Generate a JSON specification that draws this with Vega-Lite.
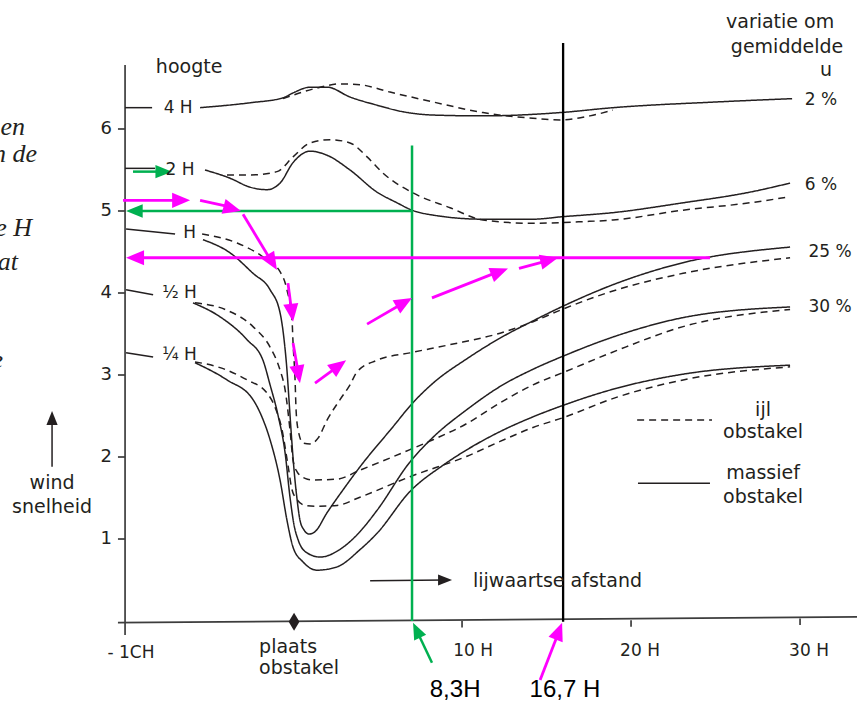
{
"$schema": "https://vega.github.io/schema/vega-lite/v6.json",
"width": 857, "height": 704,
"autosize": {"type": "none"},
"padding": 0,
"background": "white",
"config": {"view": {"stroke": null}},
"datasets": {
"curves": [
{"s":"4Hs","d":"solid","x":-5.50,"y":6.26},{"s":"4Hs","d":"solid","x":-2.54,"y":6.32},{"s":"4Hs","d":"solid","x":-0.59,"y":6.38},{"s":"4Hs","d":"solid","x":0,"y":6.44},{"s":"4Hs","d":"solid","x":1.01,"y":6.51},{"s":"4Hs","d":"solid","x":2.01,"y":6.51},{"s":"4Hs","d":"solid","x":3.37,"y":6.39},{"s":"4Hs","d":"solid","x":4.97,"y":6.29},{"s":"4Hs","d":"solid","x":6.51,"y":6.21},{"s":"4Hs","d":"solid","x":8.28,"y":6.17},{"s":"4Hs","d":"solid","x":11.24,"y":6.16},{"s":"4Hs","d":"solid","x":15.80,"y":6.20},{"s":"4Hs","d":"solid","x":18.93,"y":6.26},{"s":"4Hs","d":"solid","x":25.09,"y":6.33},{"s":"4Hs","d":"solid","x":29.53,"y":6.37},
{"s":"4Hd","d":"dashed","x":-0.59,"y":6.37},{"s":"4Hd","d":"dashed","x":-0.18,"y":6.40},{"s":"4Hd","d":"dashed","x":1.42,"y":6.50},{"s":"4Hd","d":"dashed","x":2.78,"y":6.55},{"s":"4Hd","d":"dashed","x":3.96,"y":6.54},{"s":"4Hd","d":"dashed","x":5.74,"y":6.45},{"s":"4Hd","d":"dashed","x":8.28,"y":6.33},{"s":"4Hd","d":"dashed","x":11.24,"y":6.20},{"s":"4Hd","d":"dashed","x":14.20,"y":6.13},{"s":"4Hd","d":"dashed","x":15.80,"y":6.11},{"s":"4Hd","d":"dashed","x":17.57,"y":6.16},{"s":"4Hd","d":"dashed","x":18.93,"y":6.23},
{"s":"2Hs","d":"solid","x":-5.21,"y":5.50},{"s":"2Hs","d":"solid","x":-3.73,"y":5.40},{"s":"2Hs","d":"solid","x":-2.54,"y":5.29},{"s":"2Hs","d":"solid","x":-1.54,"y":5.26},{"s":"2Hs","d":"solid","x":-0.77,"y":5.34},{"s":"2Hs","d":"solid","x":0,"y":5.59},{"s":"2Hs","d":"solid","x":1.01,"y":5.73},{"s":"2Hs","d":"solid","x":2.01,"y":5.68},{"s":"2Hs","d":"solid","x":3.37,"y":5.50},{"s":"2Hs","d":"solid","x":4.97,"y":5.23},{"s":"2Hs","d":"solid","x":6.15,"y":5.10},{"s":"2Hs","d":"solid","x":7.04,"y":5.01},{"s":"2Hs","d":"solid","x":8.28,"y":4.95},{"s":"2Hs","d":"solid","x":11.24,"y":4.90},{"s":"2Hs","d":"solid","x":14.20,"y":4.90},{"s":"2Hs","d":"solid","x":15.92,"y":4.93},{"s":"2Hs","d":"solid","x":18.93,"y":4.98},{"s":"2Hs","d":"solid","x":23.08,"y":5.10},{"s":"2Hs","d":"solid","x":27.04,"y":5.23},{"s":"2Hs","d":"solid","x":29.41,"y":5.34},
{"s":"2Hd","d":"dashed","x":-3.91,"y":5.44},{"s":"2Hd","d":"dashed","x":-2.54,"y":5.44},{"s":"2Hd","d":"dashed","x":-0.95,"y":5.48},{"s":"2Hd","d":"dashed","x":0,"y":5.66},{"s":"2Hd","d":"dashed","x":1.01,"y":5.83},{"s":"2Hd","d":"dashed","x":2.19,"y":5.87},{"s":"2Hd","d":"dashed","x":3.37,"y":5.83},{"s":"2Hd","d":"dashed","x":4.38,"y":5.66},{"s":"2Hd","d":"dashed","x":5.33,"y":5.46},{"s":"2Hd","d":"dashed","x":7.10,"y":5.22},{"s":"2Hd","d":"dashed","x":9.29,"y":5.04},{"s":"2Hd","d":"dashed","x":11.24,"y":4.89},{"s":"2Hd","d":"dashed","x":14.20,"y":4.85},{"s":"2Hd","d":"dashed","x":17.16,"y":4.87},{"s":"2Hd","d":"dashed","x":18.93,"y":4.89},{"s":"2Hd","d":"dashed","x":23.08,"y":5.01},{"s":"2Hd","d":"dashed","x":27.04,"y":5.10},{"s":"2Hd","d":"dashed","x":29.29,"y":5.17},
{"s":"1Hs","d":"solid","x":-5.33,"y":4.65},{"s":"1Hs","d":"solid","x":-3.73,"y":4.49},{"s":"1Hs","d":"solid","x":-2.37,"y":4.24},{"s":"1Hs","d":"solid","x":-1.36,"y":4.04},{"s":"1Hs","d":"solid","x":-0.77,"y":3.76},{"s":"1Hs","d":"solid","x":-0.53,"y":3.43},{"s":"1Hs","d":"solid","x":-0.36,"y":3.06},{"s":"1Hs","d":"solid","x":-0.24,"y":2.70},{"s":"1Hs","d":"solid","x":-0.12,"y":2.33},{"s":"1Hs","d":"solid","x":0.06,"y":1.84},{"s":"1Hs","d":"solid","x":0.24,"y":1.48},{"s":"1Hs","d":"solid","x":0.41,"y":1.23},{"s":"1Hs","d":"solid","x":0.65,"y":1.11},{"s":"1Hs","d":"solid","x":0.95,"y":1.06},{"s":"1Hs","d":"solid","x":1.30,"y":1.09},{"s":"1Hs","d":"solid","x":2.01,"y":1.32},{"s":"1Hs","d":"solid","x":2.96,"y":1.60},{"s":"1Hs","d":"solid","x":3.96,"y":1.88},{"s":"1Hs","d":"solid","x":5.92,"y":2.37},{"s":"1Hs","d":"solid","x":7.04,"y":2.65},{"s":"1Hs","d":"solid","x":8.28,"y":2.90},{"s":"1Hs","d":"solid","x":10.30,"y":3.20},{"s":"1Hs","d":"solid","x":12.25,"y":3.45},{"s":"1Hs","d":"solid","x":14.20,"y":3.66},{"s":"1Hs","d":"solid","x":15.98,"y":3.84},{"s":"1Hs","d":"solid","x":19.17,"y":4.12},{"s":"1Hs","d":"solid","x":23.08,"y":4.37},{"s":"1Hs","d":"solid","x":29.41,"y":4.56},
{"s":"1Hd","d":"dashed","x":-5.38,"y":4.72},{"s":"1Hd","d":"dashed","x":-3.31,"y":4.61},{"s":"1Hd","d":"dashed","x":-1.78,"y":4.44},{"s":"1Hd","d":"dashed","x":-0.77,"y":4.26},{"s":"1Hd","d":"dashed","x":-0.36,"y":4.04},{"s":"1Hd","d":"dashed","x":-0.06,"y":3.67},{"s":"1Hd","d":"dashed","x":0,"y":3.39},{"s":"1Hd","d":"dashed","x":0.12,"y":2.94},{"s":"1Hd","d":"dashed","x":0.18,"y":2.57},{"s":"1Hd","d":"dashed","x":0.30,"y":2.33},{"s":"1Hd","d":"dashed","x":0.59,"y":2.17},{"s":"1Hd","d":"dashed","x":1.01,"y":2.16},{"s":"1Hd","d":"dashed","x":1.48,"y":2.23},{"s":"1Hd","d":"dashed","x":2.01,"y":2.45},{"s":"1Hd","d":"dashed","x":2.78,"y":2.70},{"s":"1Hd","d":"dashed","x":3.37,"y":2.88},{"s":"1Hd","d":"dashed","x":3.79,"y":3.04},{"s":"1Hd","d":"dashed","x":4.97,"y":3.18},{"s":"1Hd","d":"dashed","x":6.92,"y":3.27},{"s":"1Hd","d":"dashed","x":9.29,"y":3.37},{"s":"1Hd","d":"dashed","x":12.25,"y":3.51},{"s":"1Hd","d":"dashed","x":14.20,"y":3.65},{"s":"1Hd","d":"dashed","x":15.80,"y":3.79},{"s":"1Hd","d":"dashed","x":19.17,"y":4.04},{"s":"1Hd","d":"dashed","x":23.08,"y":4.24},{"s":"1Hd","d":"dashed","x":29.41,"y":4.43},
{"s":"hHs","d":"solid","x":-5.92,"y":3.88},{"s":"hHs","d":"solid","x":-4.32,"y":3.71},{"s":"hHs","d":"solid","x":-2.72,"y":3.43},{"s":"hHs","d":"solid","x":-1.78,"y":3.18},{"s":"hHs","d":"solid","x":-1.36,"y":2.88},{"s":"hHs","d":"solid","x":-0.89,"y":2.51},{"s":"hHs","d":"solid","x":-0.47,"y":2.05},{"s":"hHs","d":"solid","x":-0.18,"y":1.51},{"s":"hHs","d":"solid","x":0.06,"y":1.17},{"s":"hHs","d":"solid","x":0.30,"y":0.99},{"s":"hHs","d":"solid","x":0.83,"y":0.83},{"s":"hHs","d":"solid","x":1.60,"y":0.78},{"s":"hHs","d":"solid","x":2.96,"y":0.90},{"s":"hHs","d":"solid","x":3.96,"y":1.09},{"s":"hHs","d":"solid","x":4.97,"y":1.35},{"s":"hHs","d":"solid","x":6.92,"y":1.94},{"s":"hHs","d":"solid","x":8.28,"y":2.24},{"s":"hHs","d":"solid","x":10.30,"y":2.58},{"s":"hHs","d":"solid","x":12.25,"y":2.86},{"s":"hHs","d":"solid","x":14.20,"y":3.07},{"s":"hHs","d":"solid","x":15.98,"y":3.23},{"s":"hHs","d":"solid","x":19.17,"y":3.48},{"s":"hHs","d":"solid","x":23.08,"y":3.70},{"s":"hHs","d":"solid","x":29.41,"y":3.83},
{"s":"hHd","d":"dashed","x":-5.80,"y":3.88},{"s":"hHd","d":"dashed","x":-3.91,"y":3.79},{"s":"hHd","d":"dashed","x":-2.37,"y":3.59},{"s":"hHd","d":"dashed","x":-1.36,"y":3.34},{"s":"hHd","d":"dashed","x":-0.77,"y":3.06},{"s":"hHd","d":"dashed","x":-0.47,"y":2.82},{"s":"hHd","d":"dashed","x":-0.18,"y":2.33},{"s":"hHd","d":"dashed","x":0,"y":1.96},{"s":"hHd","d":"dashed","x":0.24,"y":1.82},{"s":"hHd","d":"dashed","x":0.71,"y":1.74},{"s":"hHd","d":"dashed","x":1.18,"y":1.72},{"s":"hHd","d":"dashed","x":2.60,"y":1.73},{"s":"hHd","d":"dashed","x":3.96,"y":1.84},{"s":"hHd","d":"dashed","x":6.92,"y":2.09},{"s":"hHd","d":"dashed","x":8.28,"y":2.21},{"s":"hHd","d":"dashed","x":10.30,"y":2.41},{"s":"hHd","d":"dashed","x":12.25,"y":2.66},{"s":"hHd","d":"dashed","x":14.20,"y":2.88},{"s":"hHd","d":"dashed","x":15.98,"y":3.03},{"s":"hHd","d":"dashed","x":19.17,"y":3.30},{"s":"hHd","d":"dashed","x":23.08,"y":3.59},{"s":"hHd","d":"dashed","x":29.41,"y":3.80},
{"s":"qHs","d":"solid","x":-5.80,"y":3.15},{"s":"qHs","d":"solid","x":-3.91,"y":2.94},{"s":"qHs","d":"solid","x":-2.37,"y":2.70},{"s":"qHs","d":"solid","x":-1.95,"y":2.54},{"s":"qHs","d":"solid","x":-1.36,"y":2.21},{"s":"qHs","d":"solid","x":-0.77,"y":1.72},{"s":"qHs","d":"solid","x":-0.36,"y":1.23},{"s":"qHs","d":"solid","x":0,"y":0.90},{"s":"qHs","d":"solid","x":0.59,"y":0.72},{"s":"qHs","d":"solid","x":1.42,"y":0.62},{"s":"qHs","d":"solid","x":2.60,"y":0.66},{"s":"qHs","d":"solid","x":3.96,"y":0.87},{"s":"qHs","d":"solid","x":4.97,"y":1.07},{"s":"qHs","d":"solid","x":6.92,"y":1.58},{"s":"qHs","d":"solid","x":8.88,"y":1.90},{"s":"qHs","d":"solid","x":10.30,"y":2.09},{"s":"qHs","d":"solid","x":12.25,"y":2.31},{"s":"qHs","d":"solid","x":14.20,"y":2.49},{"s":"qHs","d":"solid","x":15.98,"y":2.63},{"s":"qHs","d":"solid","x":19.17,"y":2.84},{"s":"qHs","d":"solid","x":23.08,"y":3.01},{"s":"qHs","d":"solid","x":29.41,"y":3.12},
{"s":"qHd","d":"dashed","x":-5.80,"y":3.16},{"s":"qHd","d":"dashed","x":-4.32,"y":3.09},{"s":"qHd","d":"dashed","x":-2.72,"y":2.94},{"s":"qHd","d":"dashed","x":-1.54,"y":2.78},{"s":"qHd","d":"dashed","x":-1.07,"y":2.61},{"s":"qHd","d":"dashed","x":-0.65,"y":2.33},{"s":"qHd","d":"dashed","x":-0.30,"y":1.90},{"s":"qHd","d":"dashed","x":-0.06,"y":1.60},{"s":"qHd","d":"dashed","x":0.24,"y":1.48},{"s":"qHd","d":"dashed","x":0.71,"y":1.41},{"s":"qHd","d":"dashed","x":1.30,"y":1.40},{"s":"qHd","d":"dashed","x":2.60,"y":1.41},{"s":"qHd","d":"dashed","x":3.96,"y":1.51},{"s":"qHd","d":"dashed","x":6.92,"y":1.76},{"s":"qHd","d":"dashed","x":10.30,"y":2.01},{"s":"qHd","d":"dashed","x":12.25,"y":2.19},{"s":"qHd","d":"dashed","x":14.20,"y":2.36},{"s":"qHd","d":"dashed","x":15.98,"y":2.48},{"s":"qHd","d":"dashed","x":19.17,"y":2.73},{"s":"qHd","d":"dashed","x":23.08,"y":2.94},{"s":"qHd","d":"dashed","x":29.41,"y":3.10}
],
"segs": [
{"k":"axis","x":-9.94,"y":6.78,"x2":-9.94,"y2":-0.17},
{"k":"axis","x":-10.36,"y":-0.02,"x2":33.37,"y2":0.05},
{"k":"axis","x":-10.36,"y":1,"x2":-9.94,"y2":1},
{"k":"axis","x":-10.36,"y":2,"x2":-9.94,"y2":2},
{"k":"axis","x":-10.36,"y":3,"x2":-9.94,"y2":3},
{"k":"axis","x":-10.36,"y":4,"x2":-9.94,"y2":4},
{"k":"axis","x":-10.36,"y":5,"x2":-9.94,"y2":5},
{"k":"axis","x":-10.36,"y":6,"x2":-9.94,"y2":6},
{"k":"axis","x":10,"y":0.0,"x2":10,"y2":-0.08},
{"k":"axis","x":20,"y":0.01,"x2":20,"y2":-0.07},
{"k":"axis","x":30,"y":0.03,"x2":30,"y2":-0.05},
{"k":"ink","x":-9.94,"y":6.26,"x2":-8.34,"y2":6.26},
{"k":"ink","x":-9.94,"y":5.52,"x2":-8.17,"y2":5.52},
{"k":"ink","x":-9.88,"y":4.78,"x2":-6.98,"y2":4.72},
{"k":"ink","x":-9.88,"y":4.04,"x2":-8.28,"y2":3.98},
{"k":"ink","x":-9.88,"y":3.27,"x2":-8.28,"y2":3.22},
{"k":"ink","x":20.41,"y":1.68,"x2":24.67,"y2":1.68},
{"k":"ink","x":4.56,"y":0.49,"x2":8.99,"y2":0.50},
{"k":"ink","x":-14.26,"y":1.88,"x2":-14.26,"y2":2.48},
{"k":"dash","x":20.36,"y":2.45,"x2":24.79,"y2":2.45},
{"k":"vline","x":15.98,"y":7.05,"x2":15.98,"y2":-0.01},
{"k":"green","x":7.04,"y":5.80,"x2":7.04,"y2":0.0},
{"k":"green","x":7.04,"y":5.0,"x2":-9.41,"y2":5.0},
{"k":"green","x":-9.47,"y":5.48,"x2":-7.63,"y2":5.48},
{"k":"green","x":8.22,"y":-0.51,"x2":7.30,"y2":-0.11},
{"k":"magenta","x":-9.41,"y":4.43,"x2":24.67,"y2":4.43},
{"k":"magenta","x":-10.06,"y":5.13,"x2":-6.57,"y2":5.13},
{"k":"magenta","x":-5.50,"y":5.13,"x2":-3.53,"y2":5.04},
{"k":"magenta","x":-2.96,"y":4.96,"x2":-1.20,"y2":4.36},
{"k":"magenta","x":-0.30,"y":4.12,"x2":-0.06,"y2":3.74},
{"k":"magenta","x":0,"y":3.39,"x2":0.33,"y2":3.0},
{"k":"magenta","x":1.30,"y":2.90,"x2":2.76,"y2":3.12},
{"k":"magenta","x":4.38,"y":3.62,"x2":6.63,"y2":3.89},
{"k":"magenta","x":8.22,"y":3.94,"x2":12.28,"y2":4.27},
{"k":"magenta","x":13.37,"y":4.30,"x2":15.20,"y2":4.40},
{"k":"magenta","x":14.62,"y":-0.72,"x2":15.75,"y2":-0.12}
],
"heads": [
{"k":"green","x":-7.16,"y":5.48,"a":90},
{"k":"green","x":-9.88,"y":5.00,"a":270},
{"k":"green","x":7.10,"y":-0.02,"a":334.6},
{"k":"magenta","x":-6.09,"y":5.13,"a":90},
{"k":"magenta","x":-3.08,"y":5.00,"a":105},
{"k":"magenta","x":-0.95,"y":4.28,"a":148.7},
{"k":"magenta","x":0,"y":3.65,"a":172.7},
{"k":"magenta","x":0.41,"y":2.90,"a":170},
{"k":"magenta","x":3.14,"y":3.18,"a":53.4},
{"k":"magenta","x":7.04,"y":3.94,"a":60},
{"k":"magenta","x":12.72,"y":4.30,"a":68.5},
{"k":"magenta","x":15.68,"y":4.43,"a":76},
{"k":"magenta","x":-9.88,"y":4.43,"a":270},
{"k":"magenta","x":15.92,"y":-0.02,"a":21.1},
{"k":"black","x":9.41,"y":0.50,"a":90},
{"k":"black","x":-14.26,"y":2.56,"a":0}
],
"marker": [{"x":0.06,"y":-0.01}],
"texts": [
{"g":"word","t":"hoogte","x":-6.15,"y":6.76},
{"g":"word","t":"wind","x":-14.26,"y":1.68},
{"g":"word","t":"snelheid","x":-14.26,"y":1.39},
{"g":"word","t":"variatie om","x":28.82,"y":7.30},
{"g":"word","t":"gemiddelde","x":29.23,"y":7.00},
{"g":"word","t":"u","x":31.54,"y":6.72},
{"g":"word","t":"ijl","x":27.81,"y":2.57},
{"g":"word","t":"obstakel","x":27.81,"y":2.30},
{"g":"word","t":"massief","x":27.81,"y":1.80},
{"g":"word","t":"obstakel","x":27.81,"y":1.51},
{"g":"left","t":"lijwaartse afstand","x":10.65,"y":0.49},
{"g":"left","t":"plaats","x":-2.01,"y":-0.32},
{"g":"left","t":"obstakel","x":-2.01,"y":-0.57},
{"g":"num","t":"4 H","x":-6.80,"y":6.26},
{"g":"num","t":"2 H","x":-6.69,"y":5.50},
{"g":"num","t":"H","x":-6.12,"y":4.73},
{"g":"num","t":"½ H","x":-6.72,"y":4.00},
{"g":"num","t":"¼ H","x":-6.72,"y":3.24},
{"g":"num","t":"- 1CH","x":-9.59,"y":-0.39},
{"g":"num","t":"10 H","x":10.65,"y":-0.37},
{"g":"num","t":"20 H","x":20.53,"y":-0.37},
{"g":"num","t":"30 H","x":30.53,"y":-0.37},
{"g":"num","t":"2 %","x":31.24,"y":6.35},
{"g":"num","t":"6 %","x":31.24,"y":5.32},
{"g":"num","t":"25 %","x":31.78,"y":4.50},
{"g":"num","t":"30 %","x":31.78,"y":3.83},
{"g":"ylab","t":"6","x":-10.71,"y":6},
{"g":"ylab","t":"5","x":-10.71,"y":5},
{"g":"ylab","t":"4","x":-10.71,"y":4},
{"g":"ylab","t":"3","x":-10.71,"y":3},
{"g":"ylab","t":"2","x":-10.71,"y":2},
{"g":"ylab","t":"1","x":-10.71,"y":1},
{"g":"arial","t":"8,3H","x":9.59,"y":-0.84},
{"g":"arial","t":"16,7 H","x":16.09,"y":-0.84},
{"g":"ital","t":"en","x":-15.86,"y":6.03},
{"g":"ital","t":"n de","x":-15.15,"y":5.70},
{"g":"ital","t":"e H","x":-15.44,"y":4.79},
{"g":"ital","t":"at","x":-16.27,"y":4.38},
{"g":"ital","t":"e","x":-17.16,"y":3.18}
]
},
"encoding": {
"x": {"field": "x", "type": "quantitative", "scale": {"domain": [-17.34, 33.37], "nice": false, "zero": false}, "axis": null},
"y": {"field": "y", "type": "quantitative", "scale": {"domain": [-1.012, 7.573], "nice": false, "zero": false}, "axis": null}
},
"layer": [
{"data": {"name": "curves"}, "mark": {"type": "line", "interpolate": "monotone", "color": "#231f20", "strokeWidth": 1.5},
 "encoding": {"detail": {"field": "s"}, "strokeDash": {"field": "d", "type": "nominal", "scale": {"domain": ["solid", "dashed"], "range": [[1, 0], [7, 5]]}, "legend": null}}},
{"data": {"name": "segs"}, "transform": [{"filter": "datum.k == 'axis'"}], "mark": {"type": "rule", "color": "#3d3d3d", "strokeWidth": 1.7}, "encoding": {"x2": {"field": "x2"}, "y2": {"field": "y2"}}},
{"data": {"name": "segs"}, "transform": [{"filter": "datum.k == 'ink'"}], "mark": {"type": "rule", "color": "#231f20", "strokeWidth": 1.5}, "encoding": {"x2": {"field": "x2"}, "y2": {"field": "y2"}}},
{"data": {"name": "segs"}, "transform": [{"filter": "datum.k == 'dash'"}], "mark": {"type": "rule", "color": "#231f20", "strokeWidth": 1.5, "strokeDash": [7, 5]}, "encoding": {"x2": {"field": "x2"}, "y2": {"field": "y2"}}},
{"data": {"name": "segs"}, "transform": [{"filter": "datum.k == 'vline'"}], "mark": {"type": "rule", "color": "#000000", "strokeWidth": 2.3}, "encoding": {"x2": {"field": "x2"}, "y2": {"field": "y2"}}},
{"data": {"name": "segs"}, "transform": [{"filter": "datum.k == 'green'"}], "mark": {"type": "rule", "color": "#00b050", "strokeWidth": 2.5}, "encoding": {"x2": {"field": "x2"}, "y2": {"field": "y2"}}},
{"data": {"name": "segs"}, "transform": [{"filter": "datum.k == 'magenta'"}], "mark": {"type": "rule", "color": "#ff00ff", "strokeWidth": 2.8}, "encoding": {"x2": {"field": "x2"}, "y2": {"field": "y2"}}},
{"data": {"name": "heads"}, "transform": [{"filter": "datum.k == 'green'"}], "mark": {"type": "point", "shape": "M0,0L-0.4,1L0.4,1Z", "filled": true, "color": "#00b050", "opacity": 1, "size": 1100, "strokeWidth": 0},
 "encoding": {"angle": {"field": "a", "type": "quantitative", "scale": {"domain": [0, 360], "range": [0, 360]}}}},
{"data": {"name": "heads"}, "transform": [{"filter": "datum.k == 'magenta'"}], "mark": {"type": "point", "shape": "M0,0L-0.42,1L0.42,1Z", "filled": true, "color": "#ff00ff", "opacity": 1, "size": 1296, "strokeWidth": 0},
 "encoding": {"angle": {"field": "a", "type": "quantitative", "scale": {"domain": [0, 360], "range": [0, 360]}}}},
{"data": {"name": "heads"}, "transform": [{"filter": "datum.k == 'black'"}], "mark": {"type": "point", "shape": "M0,0L-0.4,1L0.4,1Z", "filled": true, "color": "#231f20", "opacity": 1, "size": 784, "strokeWidth": 0},
 "encoding": {"angle": {"field": "a", "type": "quantitative", "scale": {"domain": [0, 360], "range": [0, 360]}}}},
{"data": {"name": "marker"}, "mark": {"type": "point", "shape": "M0,-1L0.6,0L0,1L-0.6,0Z", "filled": true, "color": "#231f20", "opacity": 1, "size": 324, "strokeWidth": 0}},
{"data": {"name": "texts"}, "transform": [{"filter": "datum.g == 'word'"}], "mark": {"type": "text", "font": "DejaVu Sans", "fontSize": 19, "align": "center", "baseline": "middle", "color": "#231f20"}, "encoding": {"text": {"field": "t"}}},
{"data": {"name": "texts"}, "transform": [{"filter": "datum.g == 'left'"}], "mark": {"type": "text", "font": "DejaVu Sans", "fontSize": 19, "align": "left", "baseline": "middle", "color": "#231f20"}, "encoding": {"text": {"field": "t"}}},
{"data": {"name": "texts"}, "transform": [{"filter": "datum.g == 'num'"}], "mark": {"type": "text", "font": "DejaVu Sans", "fontSize": 17, "align": "center", "baseline": "middle", "color": "#231f20"}, "encoding": {"text": {"field": "t"}}},
{"data": {"name": "texts"}, "transform": [{"filter": "datum.g == 'ylab'"}], "mark": {"type": "text", "font": "DejaVu Sans", "fontSize": 18, "align": "right", "baseline": "middle", "color": "#231f20"}, "encoding": {"text": {"field": "t"}}},
{"data": {"name": "texts"}, "transform": [{"filter": "datum.g == 'arial'"}], "mark": {"type": "text", "font": "Liberation Sans", "fontSize": 24, "align": "center", "baseline": "middle", "color": "#000000"}, "encoding": {"text": {"field": "t"}}},
{"data": {"name": "texts"}, "transform": [{"filter": "datum.g == 'ital'"}], "mark": {"type": "text", "font": "Liberation Serif", "fontStyle": "italic", "fontSize": 26, "align": "right", "baseline": "middle", "color": "#231f20"}, "encoding": {"text": {"field": "t"}}}
]
}
